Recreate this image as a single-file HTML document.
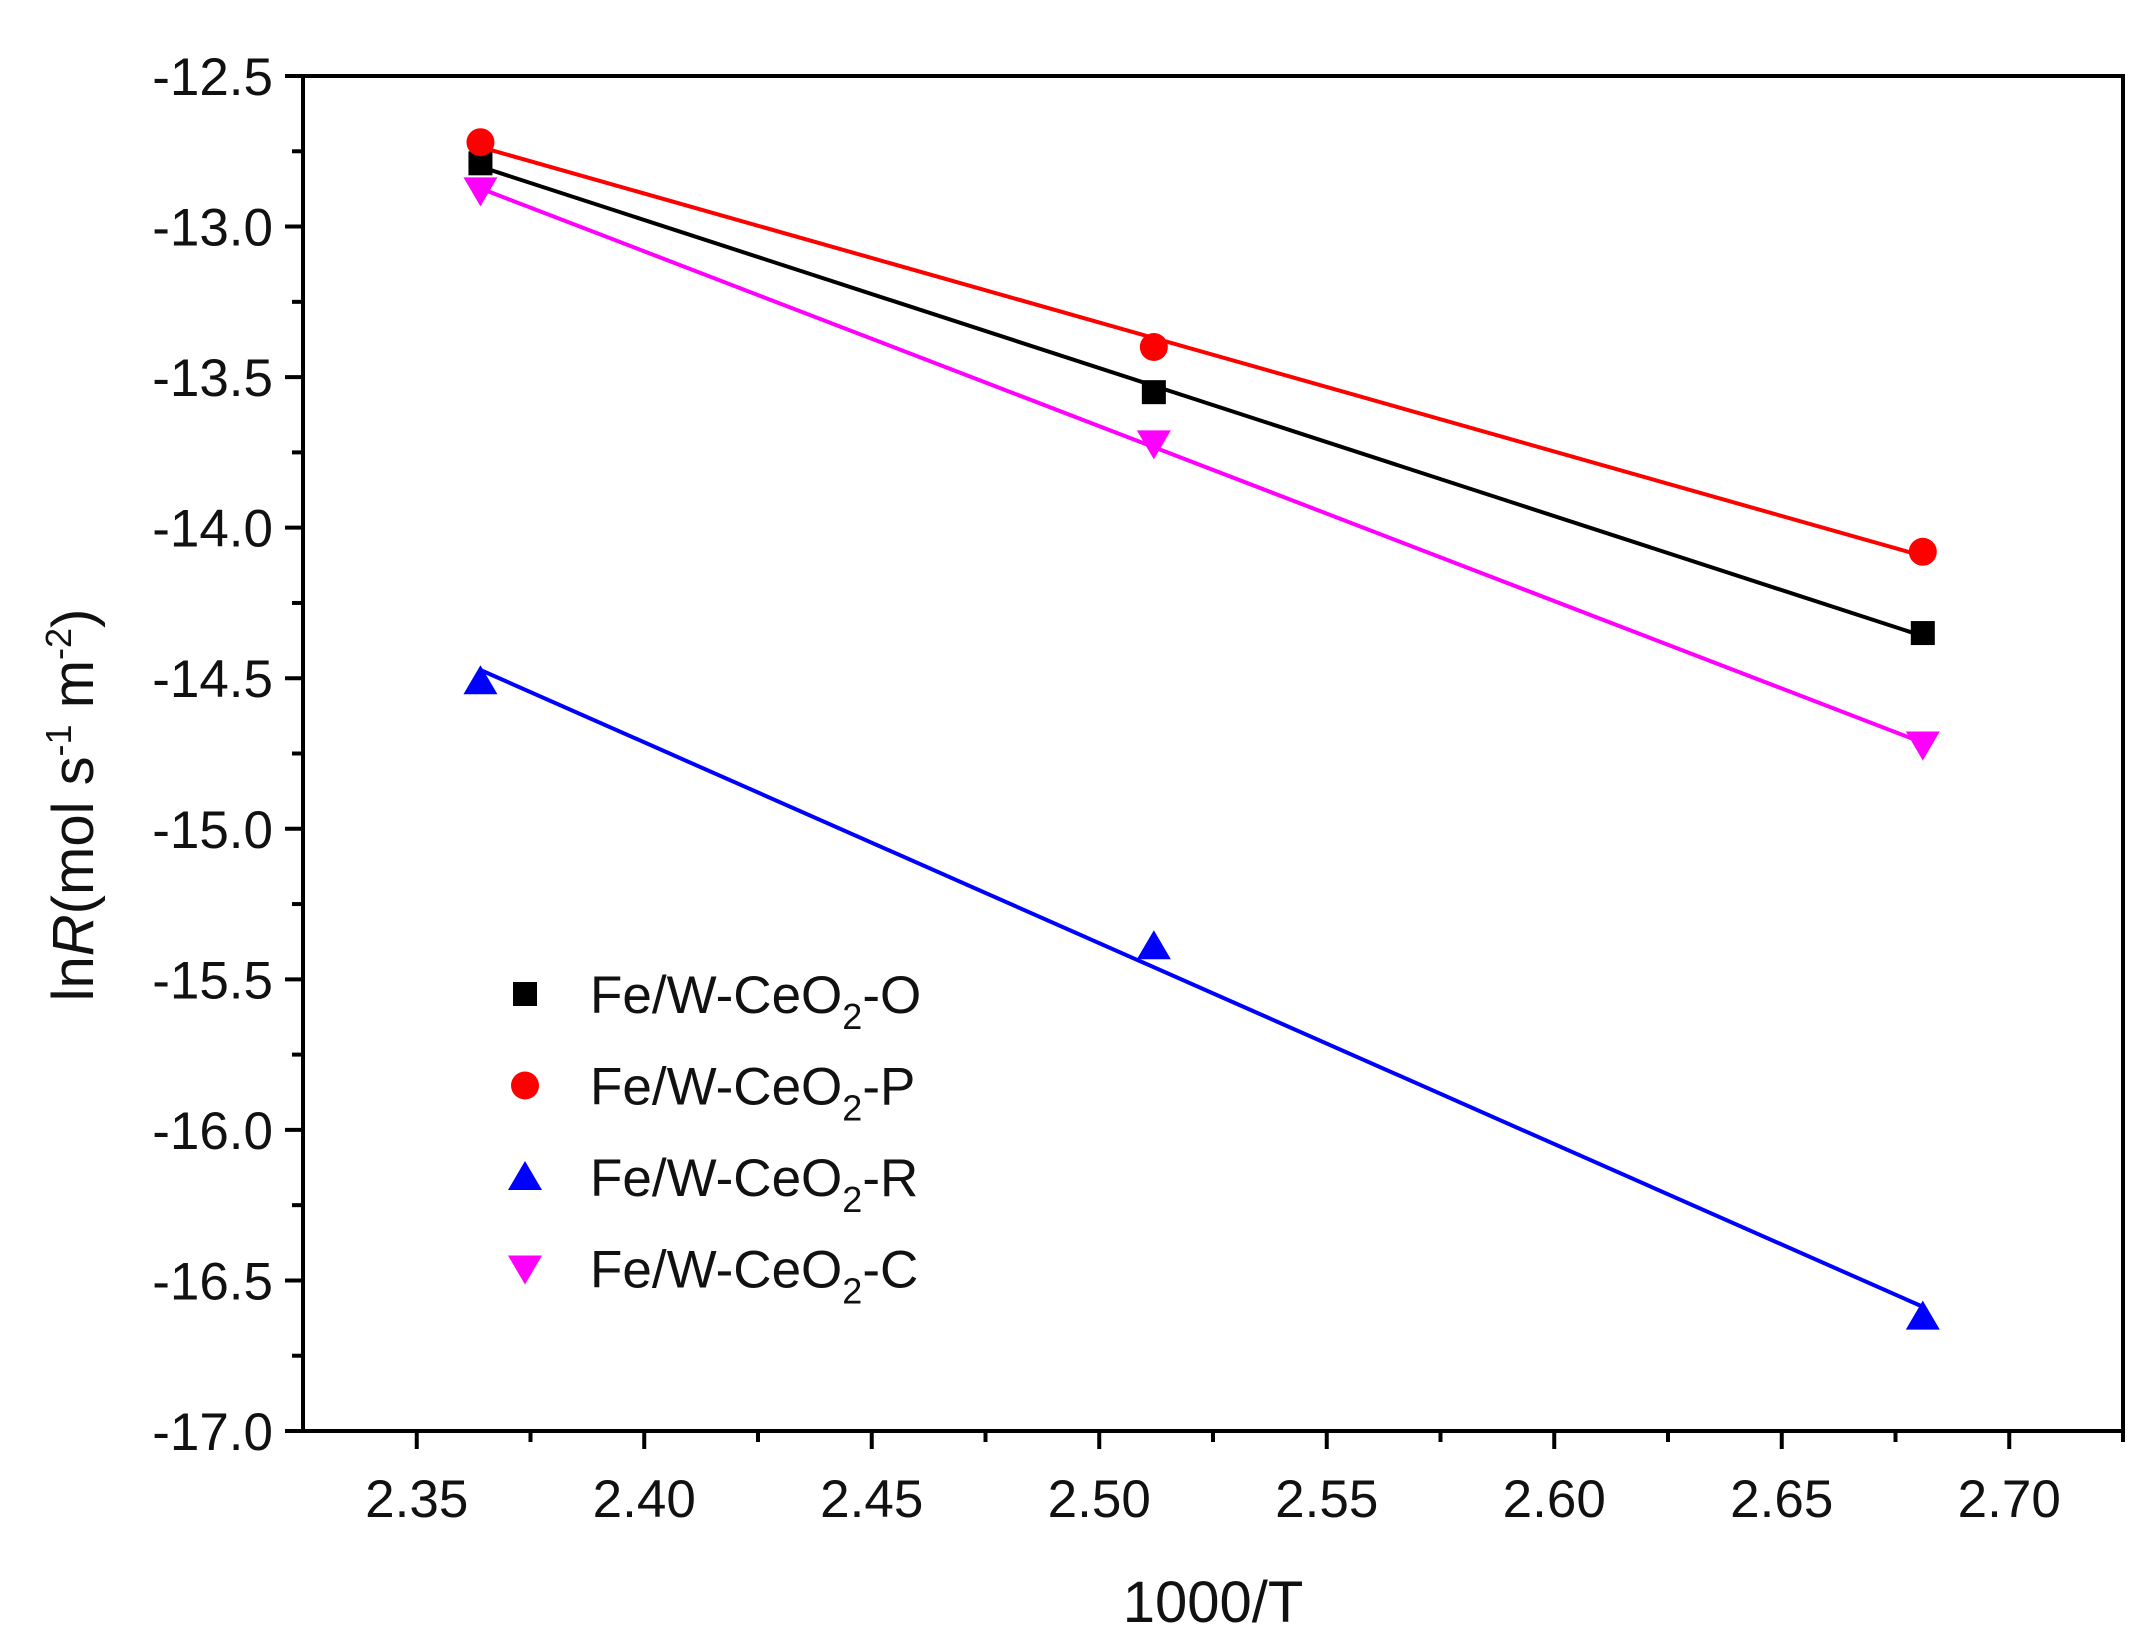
<!DOCTYPE html>
<html><head><meta charset="utf-8"><style>
html,body{margin:0;padding:0;background:#fff;}
svg{display:block;font-family:"Liberation Sans",Arial,sans-serif;}
</style></head><body>
<svg id="chart" width="2138" height="1641" viewBox="0 0 2138 1641" xmlns="http://www.w3.org/2000/svg">
<rect width="2138" height="1641" fill="#fff"/>
<g id="plot"></g>
</svg>
<script>
const xValues = [2.364, 2.512, 2.681];
const seriesNames = ["Fe/W-CeO2-O", "Fe/W-CeO2-P", "Fe/W-CeO2-R", "Fe/W-CeO2-C"];
const valuesO = [-12.79, -13.55, -14.35];
const valuesP = [-12.72, -13.40, -14.08];
const valuesR = [-14.51, -15.39, -16.62];
const valuesC = [-12.88, -13.72, -14.72];
const xTicks = [2.35, 2.40, 2.45, 2.50, 2.55, 2.60, 2.65, 2.70];
const xTickLabels = ["2.35","2.40","2.45","2.50","2.55","2.60","2.65","2.70"];
const yTicks = [-12.5,-13.0,-13.5,-14.0,-14.5,-15.0,-15.5,-16.0,-16.5,-17.0];
const yTickLabels = ["-12.5","-13.0","-13.5","-14.0","-14.5","-15.0","-15.5","-16.0","-16.5","-17.0"];

const L=303,R=2123,T=76,B=1431, XMIN=2.325,XMAX=2.725,YMAX=-12.5,YMIN=-17.0;
const sx=v=>L+(v-XMIN)/(XMAX-XMIN)*(R-L);
const sy=v=>T+(YMAX-v)/(YMAX-YMIN)*(B-T);
const NS="http://www.w3.org/2000/svg";
const g=document.getElementById('plot');
function mk(tag,attrs,parent){const e=document.createElementNS(NS,tag);for(const k in attrs)e.setAttribute(k,attrs[k]);(parent||g).appendChild(e);return e;}

// frame
let e=mk('rect',{x:L,y:T,width:R-L,height:B-T,fill:'none',stroke:'#000','stroke-width':4});



// x ticks
xTicks.forEach((v,i)=>{
  const x=sx(v);
  let t=mk('line',{x1:x,y1:B,x2:x,y2:B+18,stroke:'#000','stroke-width':4});
  
  
  const m=sx(v-0.025);
  if(m>L){let mt=mk('line',{x1:m,y1:B,x2:m,y2:B+11,stroke:'#000','stroke-width':4});
  
  }
  let lb=mk('text',{x:x,y:1517,'font-size':53,'text-anchor':'middle',fill:'#111'});
  lb.textContent=xTickLabels[i];
  
  
});
let me=mk('line',{x1:sx(2.725),y1:B,x2:sx(2.725),y2:B+11,stroke:'#000','stroke-width':4});


// y ticks
yTicks.forEach((v,i)=>{
  const y=sy(v);
  let t=mk('line',{x1:L-18,y1:y,x2:L,y2:y,stroke:'#000','stroke-width':4});
  
  
  if(v>YMIN){const m=sy(v-0.25);
  let mt=mk('line',{x1:L-11,y1:m,x2:L,y2:m,stroke:'#000','stroke-width':4});
  
  }
  let lb=mk('text',{x:273,y:y+19,'font-size':53,'text-anchor':'end',fill:'#111'});
  lb.textContent=yTickLabels[i];
  
  
});

// axis titles
let xt=mk('text',{x:1213,y:1622,'font-size':58,'text-anchor':'middle',fill:'#111'});
xt.textContent='1000/T';


let yt=mk('text',{x:0,y:0,'font-size':58,'text-anchor':'middle',fill:'#111',transform:'translate(93,805) rotate(-90)'});
yt.innerHTML='ln<tspan font-style="italic">R</tspan>(mol s<tspan dy="-22" font-size="36">-1</tspan><tspan dy="22"> m</tspan><tspan dy="-22" font-size="36">-2</tspan><tspan dy="22">)</tspan>';



const series=[[valuesO,'#000','square'],[valuesP,'#ff0000','circle'],[valuesR,'#0000ff','up'],[valuesC,'#ff00ff','down']];
function marker(shape,cx,cy,col,s){
  let m;
  if(shape==='square') m=mk('rect',{x:cx-12,y:cy-12,width:24,height:24,fill:col});
  else if(shape==='circle') m=mk('circle',{cx:cx,cy:cy,r:14,fill:col});
  else if(shape==='up') m=mk('polygon',{points:`${cx},${cy-16} ${cx-17},${cy+13} ${cx+17},${cy+13}`,fill:col});
  else m=mk('polygon',{points:`${cx},${cy+16} ${cx-17},${cy-13} ${cx+17},${cy-13}`,fill:col});
  return m;
}
series.forEach((s,si)=>{
  const ys=s[0],n=xValues.length;
  const mx=xValues.reduce((a,b)=>a+b)/n,my=ys.reduce((a,b)=>a+b)/n;
  let num=0,den=0;xValues.forEach((x,i)=>{num+=(x-mx)*(ys[i]-my);den+=(x-mx)**2;});
  const k=num/den,b0=my-k*mx;
  const x0=xValues[0],x1=xValues[n-1];
  let ln=mk('line',{x1:sx(x0),y1:sy(k*x0+b0),x2:sx(x1),y2:sy(k*x1+b0),stroke:s[1],'stroke-width':4});
  
  
  xValues.forEach((x,i)=>{
    let m=marker(s[2],sx(x),sy(ys[i]),s[1]);
    
    
  });
  // legend
  const ly=994+si*91.5;
  let lm=marker(s[2],525,ly,s[1]);
  
  
  let lt=mk('text',{x:590,y:ly+19,'font-size':53,fill:'#111'});
  const suf=seriesNames[si].split('-').pop();
  lt.innerHTML='Fe/W-CeO<tspan dy="16" font-size="36">2</tspan><tspan dy="-16">-'+suf+'</tspan>';
  
  
});
</script>
</body></html>
